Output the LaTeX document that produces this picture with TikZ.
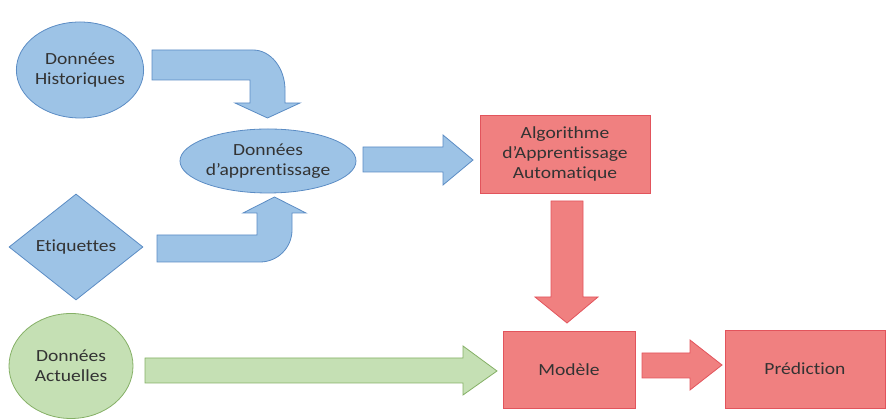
\documentclass[tikz,border=0pt]{standalone}
\usepackage{fontspec}
\setmainfont{Carlito}[FakeStretch=1.15,Ligatures={NoCommon}]
\usetikzlibrary{shapes.geometric}
\definecolor{BlueFill}{HTML}{9DC3E6}
\definecolor{BlueLine}{HTML}{5B8CC4}
\definecolor{RedFill}{HTML}{F08080}
\definecolor{RedLine}{HTML}{E2545C}
\definecolor{GreenFill}{HTML}{C5E0B4}
\definecolor{GreenLine}{HTML}{85B066}
\definecolor{TextClr}{HTML}{333333}

\tikzset{
  lbl/.style={text=TextClr,align=center,inner sep=0pt,
    font=\fontsize{17}{20}\selectfont},
  bluebox/.style={lbl,fill=BlueFill,draw=BlueLine,line width=0.8pt},
  redbox/.style={lbl,rectangle,fill=RedFill,draw=RedLine,line width=0.8pt},
  greenbox/.style={lbl,fill=GreenFill,draw=GreenLine,line width=0.8pt},
  bluearrow/.style={fill=BlueFill,draw=BlueLine,line width=0.8pt,line join=miter},
  redarrow/.style={fill=RedFill,draw=RedLine,line width=0.8pt,line join=miter},
  greenarrow/.style={fill=GreenFill,draw=GreenLine,line width=0.8pt,line join=miter}
}

\begin{document}
\begin{tikzpicture}[x=1pt,y=1pt]
\useasboundingbox (0,0) rectangle (886,419);

% sources
\node[bluebox,ellipse,minimum width=124pt,minimum height=96pt] (hist) at (80,349) {Données\\Historiques};
\node[bluebox,diamond,minimum width=134pt,minimum height=106pt] (etiq) at (76,172) {Etiquettes};
\node[bluebox,ellipse,minimum width=166pt,minimum height=64pt] (appr) at (268,258) {Données\\d’apprentissage};
\node[greenbox,ellipse,minimum width=124pt,minimum height=105pt] (actu) at (71,53) {Données\\Actuelles};

% red blocks
\node[redbox,minimum width=170pt,minimum height=78pt] (algo) at (565,265) {Algorithme\\d’Apprentissage\\Automatique};
\node[redbox,minimum width=132pt,minimum height=77pt] (modele) at (569,49) {Modèle};
\node[redbox,minimum width=160pt,minimum height=78pt] (pred) at (805,50) {Prédiction};

% bent arrows into the training data
\draw[bluearrow] (152,369) -- (253,369)
  arc[start angle=90,end angle=0,x radius=32,y radius=40]
  -- (285,316) -- (300,316) -- (267.5,301) -- (235,316) -- (250,316)
  -- (250,339) -- (152,339) -- cycle;
\draw[bluearrow] (157,184) -- (257,184) -- (257,206) -- (243,206)
  -- (274.5,222) -- (306,206) -- (292,206) -- (292,189)
  arc[start angle=0,end angle=-90,radius=32]
  -- (157,157) -- cycle;

% straight arrows
\draw[bluearrow] (363,272) -- (443,272) -- (443,284) -- (473,259)
  -- (443,234) -- (443,247) -- (363,247) -- cycle;
\draw[redarrow] (551,218) -- (583,218) -- (583,122) -- (598,122)
  -- (567,96) -- (535,122) -- (551,122) -- cycle;
\draw[greenarrow] (145,61) -- (463,61) -- (463,73) -- (497,48)
  -- (463,24) -- (463,36) -- (145,36) -- cycle;
\draw[redarrow] (642,66) -- (690,66) -- (690,79) -- (722,54)
  -- (690,29) -- (690,41) -- (642,41) -- cycle;

\end{tikzpicture}
\end{document}
